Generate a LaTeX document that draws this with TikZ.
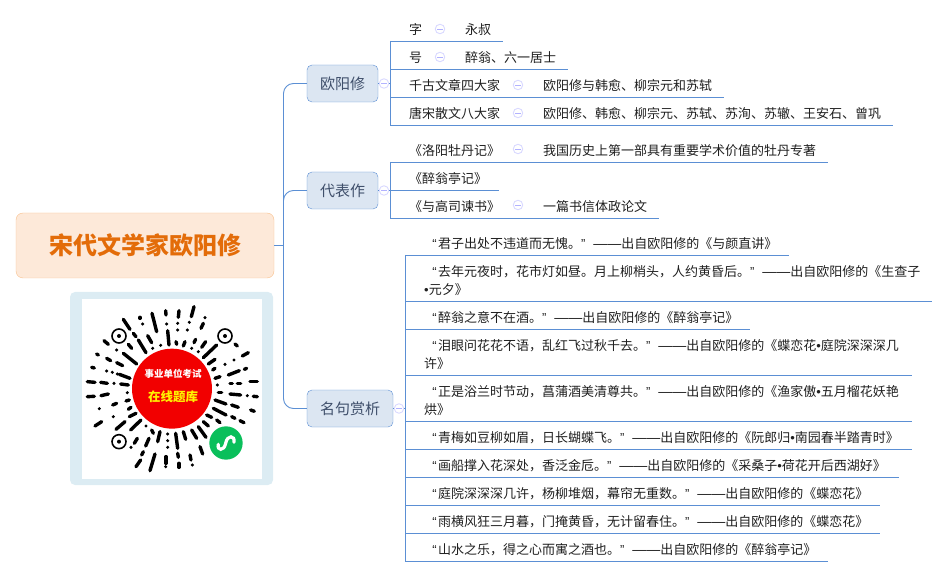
\documentclass[tikz,border=0pt]{standalone}
\usepackage{fontspec}
\setmainfont{Noto Sans CJK SC}
\newfontfamily\qrfont{Liberation Sans}
\newcommand{\ql}{\hspace*{1.2pt}{\qrfont “}\hspace{1.5pt}}
\newcommand{\qr}{{\qrfont ”}\hspace{7.7pt}}
\newcommand{\dt}{{\qrfont •}}
\newcommand{\ds}{{\qrfont\fontsize{14}{18}\selectfont ——}}
\definecolor{linkblue}{HTML}{5B8FD4}
\definecolor{rootfill}{HTML}{FDE9D9}
\definecolor{rootline}{HTML}{F8C08C}
\definecolor{rootink}{HTML}{E36C09}
\definecolor{topicfill}{HTML}{DCE6F2}
\definecolor{topicink}{HTML}{3F4F6B}
\definecolor{panelblue}{HTML}{DCECF3}
\definecolor{minigreen}{HTML}{0ABF5B}
\tikzset{root/.style = {draw=rootline, fill=rootfill, rounded corners=7pt, minimum width=258pt, minimum height=65pt, inner sep=0pt},
           topic/.style = {draw=linkblue, fill=topicfill, rounded corners=5pt, minimum height=37pt, inner sep=0pt, text=topicink, font=\fontsize{15}{18}\selectfont},
           fold/.style = {circle, draw=blue!15!white, line width=.9pt, fill=white, minimum size=9.5pt, inner sep=0pt, path picture={\draw[blue!30!white, line width=.9pt] (path picture bounding box.center) +(-3pt,0) -- +(3pt,0);}},
           txt/.style = {anchor=west, inner sep=0pt, yshift=-.7pt, align=left, font=\fontsize{13}{18}\selectfont, text=black!88},
           link/.style = {draw=linkblue, line width=.9pt},
           bar/.style = {line width=3.4pt, line cap=round, black}}

\begin{document}
\begin{tikzpicture}[x=1pt, y=-1pt]
    \useasboundingbox (0,0) rectangle (948,577);
    \node[root] (root) at (145,245.5) {\fontsize{24}{28}\selectfont\bfseries\color{rootink}宋代文学家欧阳修};
    \coordinate (trunk) at (283.5,245.5);
    \node[topic, minimum width=71pt] (ouyang) at (342.5,83.5) {欧阳修};
    \node[topic, minimum width=71pt] (works) at (342.5,190.5) {代表作};
    \node[topic, minimum width=86pt] (quotes) at (350,408.5) {名句赏析};
    \node[fold] (ouyangf) at (384,83.5) {}; \node[fold] (worksf) at (384,190.5) {}; \node[fold] (quotesf) at (399,408.5) {};
    \draw[link] (root) -- (trunk);
    \draw[link, rounded corners=10pt] (trunk) |- (ouyang);
    \draw[link, rounded corners=10pt] (trunk) |- (works);
    \draw[link, rounded corners=10pt] (trunk) |- (quotes);
    \draw[link] (ouyang) -- (ouyangf); \draw[link] (works) -- (worksf); \draw[link] (quotes) -- (quotesf);
    % underlines of the rows
    \foreach \nm/\xa/\ya/\xb in {zi/390/41/503, hao/390/69/568, four/390/97/724, eight/390/125/893,
        peony/390/162/828, pavilion/390/190.5/499, letter/390/218/659,
        qa/405/255/789, qb/405/301/932, qc/405/329/750, qd/405/375/912, qe/405/421/912,
        qf/405/449/912, qg/405/477/899, qh/405/505/880, qi/405/533/880, qj/405/561/828}{
      \coordinate (\nm a) at (\xa,\ya); \coordinate (\nm b) at (\xb,\ya);
      \draw[link] (\nm a) -- (\nm b);
    }
    \draw[link] (zia) -- (eighta); \draw[link] (peonya) -- (lettera); \draw[link] (qaa) -- (qja);
    \draw[link] (ouyangf) -- (ouyangf -| zia); \draw[link] (worksf) -- (worksf -| zia); \draw[link] (quotesf) -- (quotesf -| qaa);
    % first two branches
    \node[txt] (zit) at (409,29) {字}; \node[fold] (zif) at (440,29) {}; \node[txt] (ziv) at (465,29) {永叔};
    \node[txt] (haot) at (409,57) {号}; \node[fold] (haof) at (440,57) {}; \node[txt] (haov) at (465,57) {醉翁、六一居士};
    \node[txt] (fourt) at (409,85) {千古文章四大家}; \node[fold] (fourf) at (518,85) {}; \node[txt] (fourv) at (543,85) {欧阳修与韩愈、柳宗元和苏轼};
    \node[txt] (eightt) at (409,113) {唐宋散文八大家}; \node[fold] (eightf) at (518,113) {}; \node[txt] (eightv) at (543,113) {欧阳修、韩愈、柳宗元、苏轼、苏洵、苏辙、王安石、曾巩};
    \node[txt] (peonyt) at (409,150) {《洛阳牡丹记》}; \node[fold] (peonyf) at (518,149) {}; \node[txt] (peonyv) at (543,150) {我国历史上第一部具有重要学术价值的牡丹专著};
    \node[txt] (pavilliont) at (409,178) {《醉翁亭记》};
    \node[txt] (lettert) at (409,206) {《与高司谏书》}; \node[fold] (letterf) at (518,205) {}; \node[txt] (letterv) at (543,206) {一篇书信体政论文};
    % quotes
    \node[txt] (qat) at (431,243) {\ql 君子出处不违道而无愧。\qr \ds 出自欧阳修的《与颜直讲》};
    \node[txt] (qbt) at (424,280) {\hspace*{7pt}\ql 去年元夜时，花市灯如昼。月上柳梢头，人约黄昏后。\qr \ds 出自欧阳修的《生查子\\\dt 元夕》};
    \node[txt] (qct) at (431,317) {\ql 醉翁之意不在酒。\qr \ds 出自欧阳修的《醉翁亭记》};
    \node[txt] (qdt) at (424,354) {\hspace*{7pt}\ql 泪眼问花花不语，乱红飞过秋千去。\qr \ds 出自欧阳修的《蝶恋花\dt 庭院深深深几\\许》};
    \node[txt] (qet) at (424,400) {\hspace*{7pt}\ql 正是浴兰时节动，菖蒲酒美清尊共。\qr \ds 出自欧阳修的《渔家傲\dt 五月榴花妖艳\\烘》};
    \node[txt] (qft) at (431,437) {\ql 青梅如豆柳如眉，日长蝴蝶飞。\qr \ds 出自欧阳修的《阮郎归\dt 南园春半踏青时》};
    \node[txt] (qgt) at (431,465) {\ql 画船撑入花深处，香泛金卮。\qr \ds 出自欧阳修的《采桑子\dt 荷花开后西湖好》};
    \node[txt] (qht) at (431,493) {\ql 庭院深深深几许，杨柳堆烟，幕帘无重数。\qr \ds 出自欧阳修的《蝶恋花》};
    \node[txt] (qit) at (431,521) {\ql 雨横风狂三月暮，门掩黄昏，无计留春住。\qr \ds 出自欧阳修的《蝶恋花》};
    \node[txt] (qjt) at (431,549) {\ql 山水之乐，得之心而寓之酒也。\qr \ds 出自欧阳修的《醉翁亭记》};
    % code panel
    \fill[panelblue, rounded corners=5pt] (70,292) rectangle (273,485);
    \fill[white] (82,299) rectangle (262,479);
    \begin{scope}[shift={(0,200)}, x=1/3*1pt, y=-1/3*1pt]
      \foreach \xa/\ya/\xb/\yb in {370/358/390/388, 420/352/420/355, 428/372/428/372, 456/340/470/395, 497/332/498/345, 537/332/535/352,
          582/320/574/350, 615/353/615/353, 610/370/603/385, 500/372/500/372, 533/370/533/370, 568/367/568/367, 533/390/533/390, 562/390/562/390,
          400/400/408/410, 312/422/325/433, 350/450/350/450, 290/462/295/465, 385/433/395/445, 415/420/438/458, 443/407/455/428, 503/392/507/435,
          458/445/458/445, 482/436/482/436, 528/425/530/433, 555/425/550/438, 587/418/582/428, 617/425/605/442, 575/445/575/445, 595/455/595/455,
          650/435/610/473, 705/432/712/438, 745/458/727/468, 645/478/625/492, 675/493/675/493, 702/480/702/480, 740/505/733/508, 718/512/685/525,
          645/505/638/510, 660/530/645/535, 320/475/332/482, 370/460/410/492, 350/488/368/497, 275/502/283/504, 320/513/320/513, 337/517/337/517,
          352/522/352/522, 358/523/390/535, 262/545/285/547, 302/547/322/550, 342/550/342/550, 362/552/385/555, 652/555/652/555, 690/550/697/550,
          712/550/722/550, 750/545/772/545, 382/578/382/578, 262/590/283/589, 303/587/325/582, 655/578/665/578, 690/582/722/585, 742/587/742/587,
          760/589/772/590, 645/600/678/612, 695/615/715/622, 752/630/763/634, 378/603/388/600, 338/615/350/610, 298/626/298/626, 385/628/393/622,
          640/625/678/645, 695/650/705/655, 720/662/732/668, 340/650/340/650, 388/650/408/640, 620/645/635/652, 650/660/660/668, 285/678/305/665,
          348/688/375/665, 392/690/423/660, 610/665/625/678, 575/690/590/715, 595/680/618/712, 550/695/557/718, 527/700/533/745, 503/702/503/702,
          503/722/503/722, 503/742/503/742, 480/695/473/725, 455/690/460/700, 438/678/438/678, 447/715/437/738, 412/715/403/730, 393/742/393/742,
          430/755/425/765, 465/762/450/812, 422/780/408/800, 498/770/498/790, 497/800/497/800, 533/760/535/772, 537/790/537/802, 570/765/573/780,
          577/795/577/795, 600/740/608/762}{
        \draw[bar] (\xa,\ya) -- (\xb,\yb);
      }
      \foreach \xa/\ya in {357/408, 675/408, 357/725}{
        \draw[black, line width=1.6pt] (\xa,\ya) circle[radius=21];
        \fill[black] (\xa,\ya) circle[radius=6];
      }
      \fill[red!95!black] (516,566) circle[radius=120];
      \fill[minigreen] (678,729) circle[radius=50];
      \draw[white, line width=3.2pt, line cap=round] (655,733) .. controls (650,752) and (672,755) .. (677,730) .. controls (682,703) and (706,706) .. (702,727);
    \end{scope}
    \node[inner sep=0pt] (examt) at (173,374) {\fontsize{9.5}{11}\selectfont\bfseries\color{white}事业单位考试};
    \node[inner sep=0pt] (bankt) at (173,397) {\fontsize{12.5}{14}\selectfont\bfseries\color{yellow}在线题库};
\end{tikzpicture}
\end{document}
